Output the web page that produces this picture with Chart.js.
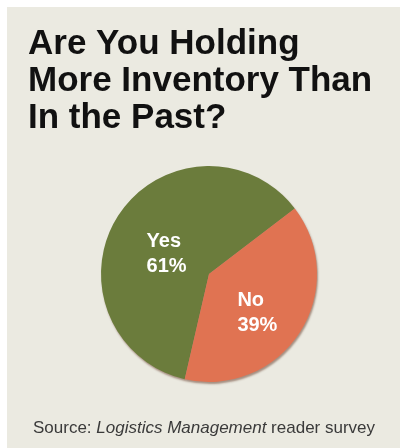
<!DOCTYPE html>
<html>
<head>
<meta charset="utf-8">
<script src="https://cdn.jsdelivr.net/npm/chart.js@4.4.1/dist/chart.umd.min.js"></script>
<style>
  html, body { margin: 0; padding: 0; background: #ffffff; }
  .panel {
    position: absolute;
    left: 7px;
    top: 7px;
    width: 393px;
    height: 441px;
    background: #ebeae1;
  }
</style>
</head>
<body>
<div class="panel">
  <canvas id="surveyChart" width="393" height="441"></canvas>
</div>
<script>
// ===== Chart data =====
const categories = ['Yes', 'No'];
const shares = [61, 39];
const titleLines = ['Are You Holding', 'More Inventory Than', 'In the Past?'];
const sourceParts = ['Source: ', 'Logistics Management', ' reader survey'];

// title + source line, drawn on the canvas
const headerFooter = {
  id: 'headerFooter',
  afterDraw(chart) {
    const ctx = chart.ctx;
    ctx.save();
    ctx.fillStyle = '#111111';
    ctx.textAlign = 'left';
    ctx.textBaseline = 'alphabetic';
    ctx.font = "bold 35px 'Liberation Sans', Arial, sans-serif";
    titleLines.forEach((line, i) => {
      ctx.fillText(line, 21, 47 + i * 37);
    });

    // source: middle part is the publication name, set in italic
    let x = 26;
    ctx.fillStyle = '#3a3a3a';
    sourceParts.forEach((part, i) => {
      ctx.font = (i === 1 ? 'italic ' : '') + "17px 'Liberation Sans', Arial, sans-serif";
      ctx.fillText(part, x, 426);
      x += ctx.measureText(part).width;
    });
    ctx.restore();
  }
};

// soft rim shadow under the pie
const pieShadow = {
  id: 'pieShadow',
  beforeDatasetsDraw(chart) {
    const ctx = chart.ctx;
    ctx.save();
    ctx.shadowColor = 'rgba(80, 30, 10, 0.45)';
    ctx.shadowBlur = 2;
    ctx.shadowOffsetX = 1;
    ctx.shadowOffsetY = 2;
  },
  afterDatasetsDraw(chart) {
    chart.ctx.restore();
  }
};

// "Yes / 61%" style labels inside the slices
const sliceLabels = {
  id: 'sliceLabels',
  afterDatasetsDraw(chart) {
    const ctx = chart.ctx;
    const meta = chart.getDatasetMeta(0);
    ctx.save();
    ctx.fillStyle = '#ffffff';
    ctx.font = "bold 20px 'Liberation Sans', Arial, sans-serif";
    ctx.textAlign = 'left';
    ctx.textBaseline = 'middle';
    meta.data.forEach((arc, i) => {
      const pos = arc.tooltipPosition();
      const lines = [categories[i], shares[i] + '%'];
      const w = Math.max(...lines.map(l => ctx.measureText(l).width));
      const left = pos.x - w / 2 + 3;
      lines.forEach((l, j) => {
        ctx.fillText(l, left, pos.y - 3 + j * 25);
      });
    });
    ctx.restore();
  }
};

new Chart(document.getElementById('surveyChart'), {
  type: 'pie',
  data: {
    labels: categories,
    datasets: [{
      data: shares,
      backgroundColor: ['#6b7c3c', '#e07352'],
      borderWidth: 0,
      hoverOffset: 0,
      offset: 0
    }]
  },
  options: {
    responsive: false,
    animation: false,
    rotation: 193,
    layout: {
      padding: { left: 94, right: 83, top: 159, bottom: 66 }
    },
    plugins: {
      legend: { display: false },
      tooltip: { enabled: false },
      title: { display: false }
    }
  },
  plugins: [pieShadow, sliceLabels, headerFooter]
});
</script>
</body>
</html>
